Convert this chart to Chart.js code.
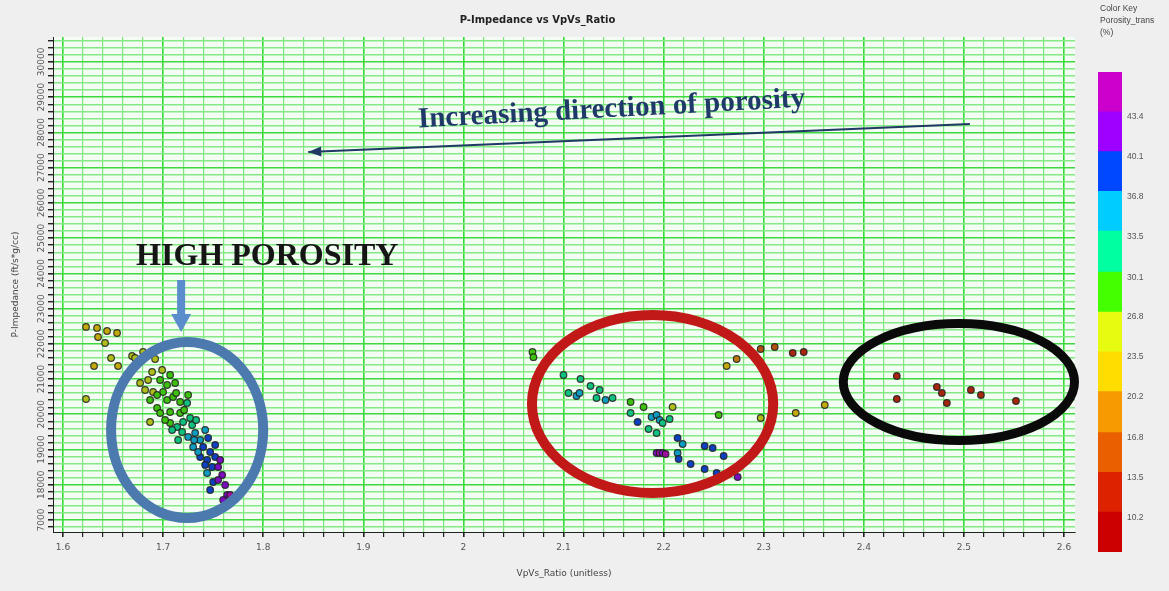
<!DOCTYPE html>
<html>
<head>
<meta charset="utf-8">
<script src="https://cdn.jsdelivr.net/npm/chart.js@4.4.0/dist/chart.umd.min.js"></script>
<style>
  html, body { margin: 0; padding: 0; background: #efefef; }
  #wrap { position: relative; width: 1169px; height: 591px; overflow: hidden; }
  #mainBox { position: absolute; left: 0; top: 0; width: 1169px; height: 591px; }
  #keyBox { position: absolute; left: 1088px; top: 0; width: 81px; height: 591px; }
  #keyTitle { position: absolute; left: 1100px; top: 2px; font-family: "Liberation Sans", sans-serif; font-size: 8.5px; line-height: 12px; color: #444; }
</style>
</head>
<body>
<div id="wrap">
  <div id="mainBox"><canvas id="myChart"></canvas></div>
  <div id="keyBox"><canvas id="keyChart"></canvas></div>
  <div id="keyTitle">Color Key<br>Porosity_trans<br>(%)</div>
</div>
<script>
// samples: VpVs ratio, P-impedance, porosity (%)
const vpvsRatio = [
  1.623, 1.634, 1.644, 1.654, 1.635, 1.642, 1.648, 1.631, 1.655, 1.623,
  1.669, 1.672, 1.680, 1.692, 1.677, 1.685, 1.697, 1.704, 1.712, 1.682,
  1.690, 1.700, 1.687, 1.694, 1.704, 1.710, 1.717, 1.724, 1.697, 1.707,
  1.717, 1.687, 1.707, 1.714, 1.720, 1.729, 1.715, 1.725, 1.732, 1.737,
  1.730, 1.740, 1.747, 1.737, 1.744, 1.752, 1.749, 1.755, 1.744, 1.759,
  1.750, 1.764, 1.760, 1.767, 1.713, 1.721, 1.727, 1.733, 1.742, 1.745,
  1.735, 1.742, 1.752, 1.757, 1.719, 1.709, 1.702, 1.694, 1.707, 1.699,
  1.689, 1.725, 1.731, 1.755, 1.747, 1.762,
  2.069, 2.070, 2.100, 2.117, 2.127, 2.136, 2.105, 2.113, 2.116, 2.133,
  2.142, 2.149, 2.167, 2.180, 2.209, 2.167, 2.188, 2.193, 2.196, 2.199,
  2.206, 2.174, 2.185, 2.193, 2.214, 2.219, 2.193, 2.196, 2.199, 2.202,
  2.214, 2.215, 2.227, 2.241, 2.249, 2.260, 2.241, 2.253, 2.274, 2.255,
  2.263, 2.273, 2.297, 2.311, 2.329, 2.340, 2.297, 2.332, 2.361,
  2.433, 2.433, 2.473, 2.478, 2.483, 2.507, 2.517, 2.552
];
const pImpedance = [
  22480, 22450, 22364, 22307, 22193, 22023, 21598, 21371, 21371, 20434,
  21654, 21598, 21768, 21569, 20888, 20973, 20973, 20831, 20888, 20689,
  20633, 20633, 20406, 20179, 20406, 20491, 20349, 20320, 20037, 20065,
  20037, 19781, 19753, 19639, 19781, 19696, 19270, 19356, 19469, 19270,
  19072, 19072, 18930, 18788, 18703, 18788, 18504, 18504, 18334, 18277,
  18078, 17710, 17568, 17710, 20604, 20122, 19895, 19838, 19554, 19327,
  18930, 18561, 19128, 18703, 19497, 19554, 19838, 20548, 21115, 21257,
  21200, 20548, 19270, 18135, 17851, 17993,
  21768, 21620, 21115, 21001, 20803, 20689, 20604, 20519, 20604, 20462,
  20406, 20462, 20349, 20207, 20207, 20037, 19923, 19980, 19838, 19753,
  19866, 19781, 19583, 19469, 19327, 19157, 18901, 18901, 18901, 18873,
  18901, 18731, 18589, 19100, 19043, 18816, 18447, 18334, 18220, 19980,
  21371, 21569, 21853, 21910, 21739, 21768, 19895, 20037, 20264,
  21087, 20434, 20775, 20604, 20320, 20689, 20548, 20377
];
const porosity = [
  22, 23, 22, 21, 22, 24, 24, 21, 22, 24,
  25, 26, 24, 25, 25, 26, 27, 28, 29, 26,
  26, 28, 27, 27, 28, 29, 30, 31, 28, 29,
  30, 24, 30, 31, 32, 33, 33, 34, 34, 36,
  35, 37, 39, 37, 39, 40, 38, 41, 36, 42,
  38, 43, 42, 44, 28, 30, 32, 33, 35, 37,
  36, 38, 40, 41, 32, 31, 29, 27, 27, 26,
  25, 30, 35, 42, 40, 43,
  30, 29, 32, 32, 31, 32, 33, 35, 34, 33,
  34, 33, 30, 29, 26, 32, 35, 34, 35, 33,
  31, 38, 33, 32, 38, 34, 43, 44, 43, 44,
  35, 40, 38, 39, 40, 38, 39, 38, 41, 28,
  21, 19, 15, 14, 12, 11, 24, 22, 22,
  12, 11, 13, 12, 11, 12, 11, 12
];

// axis ticks
const xTickLabels = ['1.6', '1.7', '1.8', '1.9', '2', '2.1', '2.2', '2.3', '2.4', '2.5', '2.6'];
const yTickLabels = ['7000', '18000', '19000', '20000', '21000', '22000', '23000',
  '24000', '25000', '26000', '27000', '28000', '29000', '30000'];
const yMajorValues = [17000, 18000, 19000, 20000, 21000, 22000, 23000,
  24000, 25000, 26000, 27000, 28000, 29000, 30000];

// color key (bottom to top)
const keyEdges = [6.9, 10.2, 13.5, 16.8, 20.2, 23.5, 26.8, 30.1, 33.5, 36.8, 40.1, 43.4, 46.7];
const keyColors = ['#cc0000', '#dd2200', '#ea5f00', '#f59a00', '#ffdd00', '#e6fb10',
  '#44ff00', '#00ffa0', '#00ccff', '#0048ff', '#9d00ff', '#cc00cc'];
const keyLabels = ['10.2', '13.5', '16.8', '20.2', '23.5', '26.8', '30.1', '33.5', '36.8', '40.1', '43.4'];

// overlay markings, in data units
const rings = [
  { x: 1.724, y: 19554, rx: 0.076, ry: 2500, color: '#4c7aae', width: 10 },
  { x: 2.189, y: 20292, rx: 0.1205, ry: 2526, color: '#c11818', width: 10 },
  { x: 2.495, y: 20916, rx: 0.1155, ry: 1660, color: '#0a0a0a', width: 9 }
];

function porosityColor(p) {
  for (let i = 0; i < keyColors.length; i++) {
    if (p < keyEdges[i + 1]) return keyColors[i];
  }
  return keyColors[keyColors.length - 1];
}

// marker fill looks duller than the key, mix toward dark grey
function dull(hex) {
  const n = parseInt(hex.slice(1), 16);
  const mix = c => Math.round(c * 0.7 + 48 * 0.3);
  return `rgb(${mix(n >> 16)}, ${mix((n >> 8) & 255)}, ${mix(n & 255)})`;
}

function isMajor(v, step) {
  const r = v / step;
  return Math.abs(r - Math.round(r)) < 1e-6;
}

// minor ticks every 0.02 and every 200
const xTicks = [];
for (let i = 0; i <= 50; i++) xTicks.push(Math.round((1.6 + i * 0.02) * 100) / 100);
const yTicks = [];
for (let v = 16800; v <= 30600; v += 200) yTicks.push(v);

const plotBg = {
  id: 'plotBg',
  beforeDraw(chart) {
    const { ctx, chartArea: a } = chart;
    ctx.save();
    ctx.fillStyle = '#f3fdf3';
    ctx.fillRect(a.left, a.top, a.right - a.left, a.bottom - a.top);
    ctx.restore();
  }
};

const annotate = {
  id: 'annotate',
  afterDatasetsDraw(chart) {
    const { ctx, scales: { x, y } } = chart;
    const px = v => x.getPixelForValue(v);
    const py = v => y.getPixelForValue(v);
    ctx.save();

    rings.forEach(r => {
      ctx.beginPath();
      ctx.ellipse(px(r.x), py(r.y), px(r.x + r.rx) - px(r.x), py(r.y) - py(r.y + r.ry), 0, 0, Math.PI * 2);
      ctx.lineWidth = r.width;
      ctx.strokeStyle = r.color;
      ctx.stroke();
    });

    // direction arrow
    const x1 = px(2.506), y1 = py(28238), x2 = px(1.845), y2 = py(27444);
    ctx.strokeStyle = '#1f3864';
    ctx.fillStyle = '#1f3864';
    ctx.lineWidth = 2;
    ctx.beginPath();
    ctx.moveTo(x1, y1);
    ctx.lineTo(x2, y2);
    ctx.stroke();
    const ang = Math.atan2(y2 - y1, x2 - x1);
    ctx.beginPath();
    ctx.moveTo(x2, y2);
    ctx.lineTo(x2 - 13 * Math.cos(ang) + 5 * Math.sin(ang), y2 - 13 * Math.sin(ang) - 5 * Math.cos(ang));
    ctx.lineTo(x2 - 13 * Math.cos(ang) - 5 * Math.sin(ang), y2 - 13 * Math.sin(ang) + 5 * Math.cos(ang));
    ctx.closePath();
    ctx.fill();

    ctx.save();
    ctx.translate(px(2.148), py(28650));
    ctx.rotate(-0.054);
    ctx.font = 'bold 29px "Liberation Serif", serif';
    ctx.textAlign = 'center';
    ctx.textBaseline = 'middle';
    ctx.fillStyle = '#1f3a68';
    ctx.fillText('Increasing direction of porosity', 0, 0);
    ctx.restore();

    // high porosity label and pointer
    ctx.font = 'bold 32px "Liberation Serif", serif';
    ctx.textAlign = 'center';
    ctx.textBaseline = 'middle';
    ctx.fillStyle = '#151515';
    ctx.fillText('HIGH POROSITY', px(1.804), py(24470));

    const ax = px(1.718), top = py(23811), tip = py(22335);
    ctx.fillStyle = '#5b8ccc';
    ctx.fillRect(ax - 4, top, 8, tip - top - 17);
    ctx.beginPath();
    ctx.moveTo(ax - 10, tip - 18);
    ctx.lineTo(ax + 10, tip - 18);
    ctx.lineTo(ax, tip);
    ctx.closePath();
    ctx.fill();

    ctx.restore();
  }
};

const tickFont = { size: 9, family: '"DejaVu Sans", sans-serif' };

let ctx = document.getElementById('myChart').getContext('2d');
let myChart = new Chart(ctx, {
  type: 'scatter',
  data: {
    datasets: [{
      data: vpvsRatio.map((v, i) => ({ x: v, y: pImpedance[i] })),
      backgroundColor: c => dull(porosityColor(porosity[c.dataIndex])),
      borderColor: 'rgba(30,30,30,0.85)',
      borderWidth: 1.2,
      pointRadius: 3.3,
      pointHoverRadius: 3.3
    }]
  },
  options: {
    responsive: true,
    maintainAspectRatio: false,
    animation: false,
    layout: { padding: { left: 0, right: 94, top: 0, bottom: 0 } },
    plugins: {
      legend: { display: false },
      tooltip: { enabled: false },
      title: {
        display: true,
        text: 'P-Impedance vs VpVs_Ratio',
        color: '#222',
        font: { size: 10, weight: 'bold', family: '"DejaVu Sans", sans-serif' },
        padding: { top: 14, bottom: 11 }
      }
    },
    scales: {
      x: {
        type: 'linear',
        min: 1.590,
        max: 2.611,
        afterBuildTicks: s => { s.ticks = xTicks.map(v => ({ value: v })); },
        afterFit: s => { s.height = 59; },
        ticks: {
          autoSkip: false, minRotation: 0, maxRotation: 0, padding: 5,
          color: '#555', font: tickFont,
          callback: v => isMajor(v, 0.1) ? xTickLabels[Math.round((v - 1.6) * 10)] : ''
        },
        grid: {
          color: c => isMajor(c.tick.value, 0.1) ? '#33dc33' : '#7fe57f',
          lineWidth: c => isMajor(c.tick.value, 0.1) ? 1.6 : 1.2,
          tickColor: '#222',
          tickLength: 5
        },
        border: { display: true, color: '#222', width: 1 },
        title: {
          display: true, text: 'VpVs_Ratio (unitless)', color: '#444',
          font: tickFont, padding: { top: 0, bottom: 12 }
        }
      },
      y: {
        min: 16659,
        max: 30708,
        afterBuildTicks: s => { s.ticks = yTicks.map(v => ({ value: v })); },
        afterFit: s => { s.width = 53; },
        ticks: {
          autoSkip: false, minRotation: 90, maxRotation: 90, crossAlign: 'center', padding: -8,
          color: '#555', font: tickFont,
          callback: v => isMajor(v, 1000) ? yTickLabels[yMajorValues.indexOf(v)] : ''
        },
        grid: {
          color: c => isMajor(c.tick.value, 1000) ? '#3fd83f' : '#86e886',
          lineWidth: c => isMajor(c.tick.value, 1000) ? 1.6 : 1.4,
          tickColor: '#222',
          tickLength: 5
        },
        border: { display: true, color: '#222', width: 1 },
        title: {
          display: true, text: 'P-Impedance (ft/s*g/cc)', color: '#444',
          font: tickFont, padding: { top: 10, bottom: 0 }
        }
      }
    }
  },
  plugins: [plotBg, annotate]
});

// color key bar
let keyChart = new Chart(document.getElementById('keyChart').getContext('2d'), {
  type: 'bar',
  data: {
    labels: ['key'],
    datasets: keyColors.map((c, i) => ({
      data: [[keyEdges[i], keyEdges[i + 1]]],
      backgroundColor: c,
      borderWidth: 0,
      grouped: false,
      barPercentage: 1,
      categoryPercentage: 1
    }))
  },
  options: {
    responsive: true,
    maintainAspectRatio: false,
    animation: false,
    layout: { padding: { left: 10, right: 0, top: 72, bottom: 39 } },
    plugins: { legend: { display: false }, tooltip: { enabled: false } },
    scales: {
      x: { display: false },
      y: {
        position: 'right',
        min: keyEdges[0],
        max: keyEdges[keyEdges.length - 1],
        afterBuildTicks: s => { s.ticks = keyLabels.map(t => ({ value: parseFloat(t) })); },
        afterFit: s => { s.width = 47; },
        grid: { display: false, drawTicks: false },
        border: { display: false },
        ticks: {
          padding: 5, labelOffset: 5, color: '#555',
          font: { size: 8.5, family: '"Liberation Sans", sans-serif' },
          callback: v => keyLabels.find(t => parseFloat(t) === v)
        }
      }
    }
  }
});
</script>
</body>
</html>
